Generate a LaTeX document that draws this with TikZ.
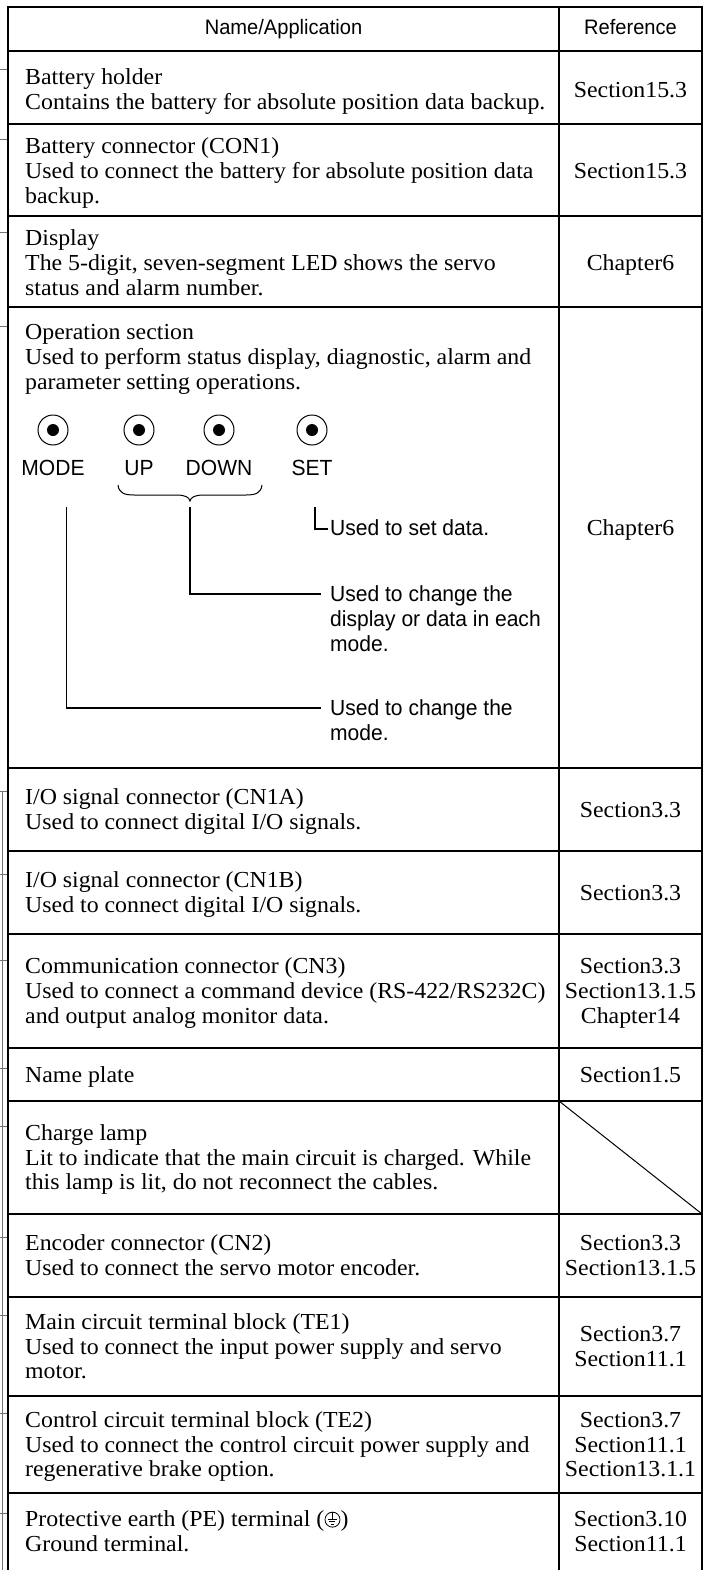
\documentclass[tikz,border=0pt]{standalone}
\usepackage{fontspec}
\setmainfont{Liberation Serif}[FakeStretch=1.04]
\newfontfamily\keyfont{Liberation Sans}[FakeStretch=0.96]
\usetikzlibrary{calc}

\newlength{\du}
\setlength{\du}{1bp}

\definecolor{dialinecolor}{rgb}{0.000000, 0.000000, 0.000000}
\definecolor{stubcolor}{rgb}{0.450000, 0.450000, 0.450000}

\tikzset{
  tablerule/.style={draw=dialinecolor, line width=2\du},
  diagrule/.style={draw=dialinecolor, line width=1\du},
  leader/.style={draw=dialinecolor, line width=1.3\du},
  stub/.style={draw=stubcolor, line width=1\du},
  namecell/.style={anchor=north west, align=left, inner sep=0pt, font=\fontsize{23}{25}\selectfont},
  refcell/.style={anchor=north, align=center, inner sep=0pt, font=\fontsize{23}{25}\selectfont},
  headcell/.style={anchor=base, inner sep=0pt, font=\keyfont\fontsize{21}{25}\selectfont},
  keylabel/.style={anchor=base, inner sep=0pt, font=\keyfont\fontsize{22}{25}\selectfont},
  keynote/.style={anchor=north west, align=left, inner sep=0pt, font=\keyfont\fontsize{22}{25}\selectfont},
  keyring/.style={circle, draw=dialinecolor, line width=1\du, minimum size=30\du, inner sep=0pt,
    path picture={\fill[dialinecolor] (path picture bounding box.center) circle (6\du);}},
  earthring/.style={circle, draw=dialinecolor, line width=0.8\du, minimum size=15\du, inner sep=0pt},
  earthbar/.style={draw=dialinecolor, line width=0.8\du},
}

\begin{document}
\begin{tikzpicture}[x=\du, y=-\du]
\useasboundingbox (0,0) rectangle (704,1570);

% table frame and row rules
\draw[tablerule] (8,1570) |- (702,7) -- (702,1570);
\draw[tablerule] (559,7) -- (559,1570);
\foreach \y in {51,124,216,307,768,851,934,1048,1101,1214,1297,1396,1493}
  \draw[tablerule] (8,\y) -- (702,\y);
% cut-off leader lines from the drawing on the left
\foreach \y in {70,140,232,326,791,874,960,1068,1126,1237,1315,1413,1513}
  \draw[stub] (0,\y) -- (7,\y);
\draw[stub, line width=0.8\du] (2.5,791) -- (2.5,1570);

% header
\node[headcell] (namehead) at (283.5,35) {Name/Application};
\node[headcell] (refhead) at (630.5,35) {Reference};

% rows
\node[namecell] (holder) at (25,67) {\strut Battery holder\\Contains the battery for absolute position data backup.};
\node[refcell] (holderref) at (630.5,79.5) {\strut Section15.3};

\node[namecell] (con1) at (25,136) {\strut Battery connector (CON1)\\Used to connect the battery for absolute position data\\backup.};
\node[refcell] (con1ref) at (630.5,161) {\strut Section15.3};

\node[namecell] (display) at (25,228) {\strut Display\\The 5-digit, seven-segment LED shows the servo\\status and alarm number.};
\node[refcell] (displayref) at (630.5,253) {\strut Chapter6};

\node[namecell] (opsec) at (25,322) {\strut Operation section\\Used to perform status display, diagnostic, alarm and\\parameter setting operations.};
\node[refcell] (opsecref) at (630.5,518) {\strut Chapter6};

% operation keys
\node[keyring] (mode) at (53,430) {};
\node[keyring] (up) at (139,430) {};
\node[keyring] (down) at (219,430) {};
\node[keyring] (set) at (312,430) {};
\node[keylabel] (modelabel) at (53,475) {MODE};
\node[keylabel] (uplabel) at (139,475) {UP};
\node[keylabel] (downlabel) at (219,475) {DOWN};
\node[keylabel] (setlabel) at (312,475) {SET};

% brace under UP and DOWN
\draw[leader, line width=1\du] (118,485) .. controls (119,493) and (124,495) .. (134,495)
  -- (176,495) .. controls (185,495) and (189,497) .. (190,501)
  .. controls (191,497) and (195,495) .. (204,495)
  -- (246,495) .. controls (256,495) and (261,493) .. (262,485);

\node[keynote] (setnote) at (330,518) {\strut Used to set data.};
\node[keynote] (pairnote) at (330,584) {\strut Used to change the\\display or data in each\\mode.};
\node[keynote] (modenote) at (330,698) {\strut Used to change the\\mode.};

\coordinate (settap) at (315,507);
\coordinate (setend) at (328,529);
\coordinate (pairtap) at (190,507);
\coordinate (pairend) at (321,594);
\coordinate (modetap) at (66.5,507);
\coordinate (modeend) at (321,708);
\draw[leader] (settap) |- (setend);
\draw[leader] (pairtap) |- (pairend);
\draw[leader] (modetap) |- (modeend);

\node[namecell] (cn1a) at (25,787) {\strut I/O signal connector (CN1A)\\Used to connect digital I/O signals.};
\node[refcell] (cn1aref) at (630.5,799.5) {\strut Section3.3};

\node[namecell] (cn1b) at (25,870) {\strut I/O signal connector (CN1B)\\Used to connect digital I/O signals.};
\node[refcell] (cn1bref) at (630.5,882.5) {\strut Section3.3};

\node[namecell] (cn3) at (25,956) {\strut Communication connector (CN3)\\Used to connect a command device (RS-422/RS232C)\\and output analog monitor data.};
\node[refcell] (cn3ref) at (630.5,956) {\strut Section3.3\\Section13.1.5\\Chapter14};

\node[namecell] (plate) at (25,1064.5) {\strut Name plate};
\node[refcell] (plateref) at (630.5,1064.5) {\strut Section1.5};

\node[namecell] (lamp) at (25,1122.5) {\strut Charge lamp\\Lit to indicate that the main circuit is charged. While\\this lamp is lit, do not reconnect the cables.};
\draw[diagrule] (559,1101) -- (702,1214);

\node[namecell] (encoder) at (25,1233) {\strut Encoder connector (CN2)\\Used to connect the servo motor encoder.};
\node[refcell] (encoderref) at (630.5,1233) {\strut Section3.3\\Section13.1.5};

\node[namecell] (te1) at (25,1311.5) {\strut Main circuit terminal block (TE1)\\Used to connect the input power supply and servo\\motor.};
\node[refcell] (te1ref) at (630.5,1324) {\strut Section3.7\\Section11.1};

\node[namecell] (te2) at (25,1409.5) {\strut Control circuit terminal block (TE2)\\Used to connect the control circuit power supply and\\regenerative brake option.};
\node[refcell] (te2ref) at (630.5,1409.5) {\strut Section3.7\\Section11.1\\Section13.1.1};

\node[namecell] (pe) at (25,1509) {\strut Protective earth (PE) terminal (};
\node[earthring] (pesign) at ($(pe.base east)+(8,-7)$) {};
\draw[earthbar] (pesign.north) -- (pesign.center);
\draw[earthbar] ($(pesign.center)+(-4.5,0)$) -- ($(pesign.center)+(4.5,0)$);
\draw[earthbar] ($(pesign.center)+(-3,2.2)$) -- ($(pesign.center)+(3,2.2)$);
\draw[earthbar] ($(pesign.center)+(-1.5,4.4)$) -- ($(pesign.center)+(1.5,4.4)$);
\node[namecell, anchor=base west] (peclose) at ($(pe.base east)+(16,0)$) {)};
\node[namecell] (peground) at (25,1534) {\strut Ground terminal.};
\node[refcell] (peref) at (630.5,1509) {\strut Section3.10\\Section11.1};
\end{tikzpicture}
\end{document}
